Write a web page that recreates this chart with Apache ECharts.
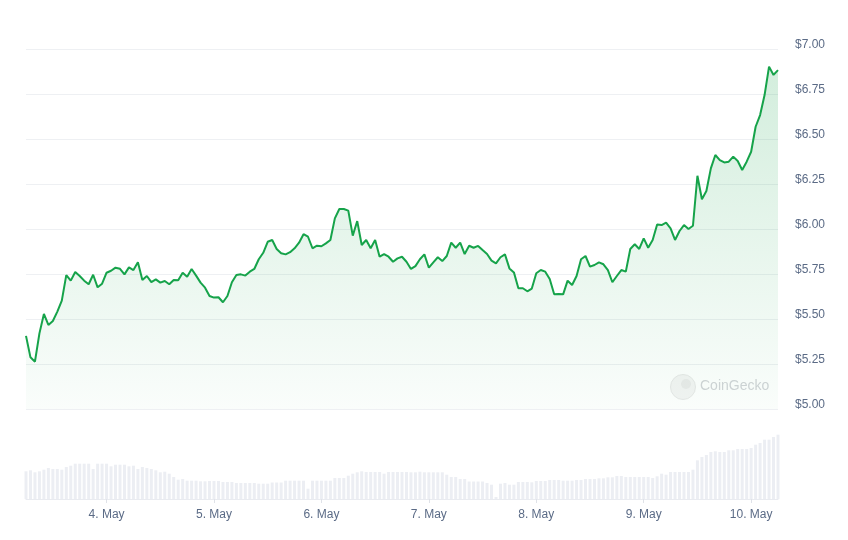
<!DOCTYPE html>
<html>
<head>
<meta charset="utf-8">
<script src="https://cdn.jsdelivr.net/npm/echarts@6/dist/echarts.min.js"></script>
<style>
html,body{margin:0;padding:0;background:#fff;}
#chart{width:848px;height:540px;}
</style>
</head>
<body>
<div id="chart"></div>
<script>
// Hourly series, starting 3 May 06:00, ending 10 May 06:00
const startTime = '2024-05-03T06:00:00';
const hours = 169;

const prices = [
5.406,5.287,5.263,5.420,5.528,5.467,5.489,5.541,5.602,5.744,
5.713,5.761,5.739,5.713,5.693,5.746,5.676,5.696,5.757,5.768,
5.785,5.779,5.748,5.787,5.772,5.815,5.717,5.739,5.705,5.720,
5.702,5.711,5.693,5.717,5.715,5.757,5.735,5.778,5.741,5.702,
5.674,5.628,5.619,5.621,5.593,5.628,5.704,5.744,5.748,5.741,
5.763,5.778,5.832,5.868,5.929,5.939,5.889,5.865,5.859,5.871,
5.893,5.924,5.971,5.957,5.893,5.907,5.904,5.920,5.939,6.059,
6.111,6.111,6.102,5.963,6.044,5.911,5.939,5.893,5.939,5.846,
5.861,5.846,5.818,5.837,5.846,5.818,5.778,5.794,5.832,5.859,
5.785,5.815,5.843,5.822,5.850,5.924,5.896,5.924,5.861,5.907,
5.896,5.906,5.883,5.861,5.824,5.809,5.843,5.859,5.781,5.759,
5.671,5.671,5.654,5.669,5.754,5.772,5.763,5.722,5.637,5.639,
5.637,5.713,5.689,5.739,5.832,5.850,5.791,5.800,5.815,5.804,
5.772,5.704,5.739,5.772,5.763,5.889,5.915,5.889,5.948,5.896,
5.939,6.025,6.022,6.035,6.004,5.939,5.989,6.022,6.000,6.018,
6.296,6.165,6.211,6.337,6.411,6.383,6.370,6.374,6.402,6.378,
6.328,6.374,6.429,6.568,6.633,6.744,6.902,6.856,6.883
];

const volumes = [
27.7,28.7,26.7,27.7,29.3,31.0,30.0,30.0,29.3,32.0,
33.3,35.3,35.3,35.3,35.3,30.0,35.3,35.3,35.3,32.7,
34.3,34.3,34.3,32.7,33.3,30.0,32.0,31.0,30.0,28.7,
26.7,27.3,25.3,22.0,19.3,20.0,18.3,18.3,18.3,17.7,
17.7,18.0,18.0,18.0,17.0,17.0,17.0,16.0,16.0,16.0,
16.0,16.0,15.3,15.3,15.3,16.5,16.5,16.5,18.3,18.3,
18.3,18.3,18.3,10.3,18.3,18.3,18.3,18.3,18.3,21.0,
21.0,21.0,23.3,25.3,26.7,27.7,27.0,27.0,27.0,27.0,
25.3,27.0,27.0,27.0,27.0,27.0,26.7,26.7,27.3,26.7,
26.7,26.7,26.7,26.7,24.3,22.0,22.0,20.0,20.0,17.5,
17.5,17.5,17.5,16.0,14.3,2.0,15.3,16.0,14.3,14.3,
17.0,17.0,17.0,16.7,18.0,18.0,18.0,19.0,19.0,19.0,
18.3,18.3,18.3,19.0,19.0,20.0,20.0,20.0,20.7,20.7,
21.7,21.7,23.0,23.0,22.0,22.0,22.0,22.0,22.0,22.0,
21.0,22.7,25.3,24.3,27.0,27.0,27.0,27.0,27.0,29.3,
38.7,42.0,44.0,47.0,47.7,47.0,47.0,48.7,48.7,50.0,
50.0,50.0,51.0,54.3,56.0,59.3,59.3,62.0,64.3
];

const priceTicks = [5.00,5.25,5.50,5.75,6.00,6.25,6.50,6.75,7.00];
const monthName = 'May';

// categories: hourly timestamps
const t0 = new Date(startTime).getTime();
const categories = [];
for (let i = 0; i < hours; i++) categories.push(t0 + i * 3600000);

function isMidnight(idx) {
  const d = new Date(categories[idx]);
  return d.getHours() === 0;
}

const FONT = 'Helvetica, Arial, "Liberation Sans", sans-serif';
const LABEL = '#5b6b86';
const GREEN = '#16a34a';

const chart = echarts.init(document.getElementById('chart'), null, {renderer: 'canvas'});
chart.setOption({
  animation: false,
  backgroundColor: '#ffffff',
  grid: [
    {left: 26, right: 70, top: 49, height: 360},
    {left: 26, right: 70, top: 429, height: 70}
  ],
  xAxis: [
    {
      type: 'category', gridIndex: 0, data: categories, boundaryGap: false,
      axisLine: {show: false}, axisTick: {show: false}, axisLabel: {show: false},
      splitLine: {show: false}
    },
    {
      type: 'category', gridIndex: 1, data: categories, boundaryGap: false,
      axisLine: {show: true, lineStyle: {color: '#e9ebf0', width: 1}},
      axisTick: {show: true, length: 4, lineStyle: {color: '#dfe2e8'},
        interval: function (idx) { return isMidnight(idx); }},
      axisLabel: {
        show: true, color: LABEL, fontFamily: FONT, fontSize: 12, margin: 10,
        interval: function (idx) { return isMidnight(idx); },
        formatter: function (v) { const d = new Date(Number(v)); return d.getDate() + '. ' + monthName; }
      },
      splitLine: {show: false}
    }
  ],
  yAxis: [
    {
      type: 'value', gridIndex: 0, position: 'right', min: priceTicks[0], max: priceTicks[priceTicks.length - 1],
      interval: 0.25,
      axisLine: {show: false}, axisTick: {show: false},
      axisLabel: {
        color: LABEL, fontFamily: FONT, fontSize: 12, margin: 17, verticalAlign: 'bottom',
        lineHeight: 8,
        formatter: function (v) { return '$' + v.toFixed(2); }
      },
      splitLine: {show: true, lineStyle: {color: '#eef0f3', width: 1}}
    },
    {
      type: 'value', gridIndex: 1, min: 0, max: 70,
      axisLine: {show: false}, axisTick: {show: false}, axisLabel: {show: false},
      splitLine: {show: false}
    }
  ],
  graphic: [
    {type: 'circle', shape: {cx: 683, cy: 387, r: 12.5}, style: {fill: '#f4f4f4', stroke: '#e8e8e8', lineWidth: 1}, z: 1},
    {type: 'circle', shape: {cx: 686, cy: 384, r: 5}, style: {fill: '#eaeaea'}, z: 1},
    {type: 'text', left: 700, top: 379, style: {text: 'CoinGecko', fill: '#d2d4d8', font: '14px ' + FONT}, z: 1}
  ],
  series: [
    {
      type: 'bar', xAxisIndex: 1, yAxisIndex: 1, data: volumes, barWidth: 3,
      itemStyle: {color: '#eceef3'}, silent: true
    },
    {
      type: 'line', xAxisIndex: 0, yAxisIndex: 0, data: prices, showSymbol: false,
      lineStyle: {color: GREEN, width: 2}, z: 5,
      areaStyle: {
        color: new echarts.graphic.LinearGradient(0, 0, 0, 1, [
          {offset: 0, color: 'rgba(22,163,74,0.27)'},
          {offset: 1, color: 'rgba(22,163,74,0.03)'}
        ])
      }
    }
  ]
});
</script>
</body>
</html>
